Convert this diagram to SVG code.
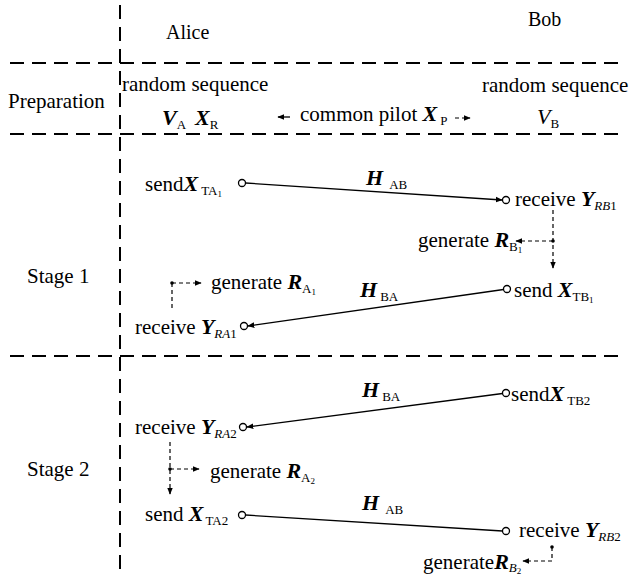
<svg xmlns="http://www.w3.org/2000/svg" width="630" height="578" viewBox="0 0 630 578" font-family="'Liberation Serif', 'Times New Roman', 'DejaVu Serif', serif">
<defs>
<style>
text{font-family:'Liberation Serif','Times New Roman','DejaVu Serif',serif}
.t{font-size:21px;fill:#000}
.v{font-weight:bold;font-style:italic;font-size:22px}
.vi{font-style:italic;font-size:22px}
.s{font-size:13px;font-weight:normal;font-style:normal}
.si{font-size:13px;font-style:italic;font-weight:normal}
.ss{font-size:9px;font-style:normal;font-weight:normal}
.grid{stroke:#000;stroke-width:2;stroke-dasharray:14,8;fill:none}
.ln{stroke:#000;stroke-width:1.3;fill:none}
.dl{stroke:#000;stroke-width:1.2;stroke-dasharray:4,3;fill:none}
.c{fill:#fff;stroke:#000;stroke-width:1.3}
</style>
<marker id="ah" viewBox="0 0 10 10" refX="9" refY="5" markerWidth="7" markerHeight="7" markerUnits="userSpaceOnUse" orient="auto">
<path d="M0,1 L10,5 L0,9 z" fill="#000"/>
</marker>
</defs>
<rect width="630" height="578" fill="#fff"/>
<g id="grid">
<line class="grid" x1="120" y1="5" x2="120" y2="572"/>
<line class="grid" x1="10" y1="63" x2="625" y2="63"/>
<line class="grid" x1="10" y1="134" x2="625" y2="134"/>
<line class="grid" x1="10" y1="356" x2="625" y2="356"/>
</g>
<g id="headers" class="t">
<text x="166" y="39" font-size="20">Alice</text>
<text x="528" y="26" font-size="20">Bob</text>
<text x="8" y="108">Preparation</text>
<text x="27" y="283">Stage 1</text>
<text x="27" y="476">Stage 2</text>
</g>
<g id="prep-alice" class="t">
<text x="122" y="91">random sequence</text>
<text x="162" y="125"><tspan class="v">V</tspan><tspan class="s" dy="4">A</tspan><tspan class="v" dy="-4" dx="9">X</tspan><tspan class="s" dy="4">R</tspan></text>
</g>
<g id="prep-pilot" class="t">
<text x="300" y="121">common pilot <tspan class="v">X</tspan><tspan class="s" dy="4" dx="3">P</tspan></text>
</g>
<g id="prep-bob" class="t">
<text x="482" y="92">random sequence</text>
<text x="537" y="124"><tspan class="vi">V</tspan><tspan class="s" dy="4">B</tspan></text>
</g>
<g id="s1-sendA" class="t"><text x="145" y="191">send<tspan class="v">X</tspan><tspan class="s" dy="4" dx="3">TA</tspan><tspan class="ss" dy="2">1</tspan></text><circle class="c" cx="242" cy="183" r="3.5"/></g>
<g id="s1-recvB" class="t"><circle class="c" cx="506" cy="200" r="3.5"/><text x="515" y="206">receive <tspan class="v">Y</tspan><tspan class="si" dy="4">RB</tspan><tspan class="s">1</tspan></text></g>
<g id="s1-genB" class="t"><text x="418" y="247">generate <tspan class="v">R</tspan><tspan class="s" dy="4">B</tspan><tspan class="ss" dy="2">1</tspan></text><circle cx="553" cy="241" r="1.8" fill="#000"/></g>
<g id="s1-sendB" class="t"><circle class="c" cx="507" cy="289" r="3.5"/><text x="514" y="297">send <tspan class="v">X</tspan><tspan class="s" dy="4">TB</tspan><tspan class="ss" dy="2">1</tspan></text></g>
<g id="s1-genA" class="t"><circle cx="172" cy="283" r="1.8" fill="#000"/><text x="211" y="289">generate <tspan class="v">R</tspan><tspan class="s" dy="4">A</tspan><tspan class="ss" dy="2">1</tspan></text></g>
<g id="s1-recvA" class="t"><text x="135" y="334">receive <tspan class="v">Y</tspan><tspan class="si" dy="4">RA</tspan><tspan class="s">1</tspan></text><circle class="c" cx="244" cy="326" r="3.5"/></g>
<g id="s2-sendB" class="t"><circle class="c" cx="506" cy="393" r="3.5"/><text x="511" y="401">send<tspan class="v">X</tspan><tspan class="s" dy="4" dx="3">TB2</tspan></text></g>
<g id="s2-recvA" class="t"><text x="135" y="434">receive <tspan class="v">Y</tspan><tspan class="si" dy="4">RA</tspan><tspan class="s">2</tspan></text><circle class="c" cx="243" cy="427" r="3.5"/></g>
<g id="s2-genA" class="t"><circle cx="170" cy="469" r="1.8" fill="#000"/><text x="210" y="478">generate <tspan class="v">R</tspan><tspan class="s" dy="4">A</tspan><tspan class="ss" dy="2">2</tspan></text></g>
<g id="s2-sendA" class="t"><text x="145" y="521">send <tspan class="v">X</tspan><tspan class="s" dy="4" dx="2">TA2</tspan></text><circle class="c" cx="242" cy="515" r="3.5"/></g>
<g id="s2-recvB" class="t"><circle class="c" cx="506" cy="531" r="3.5"/><text x="519" y="537">receive <tspan class="v">Y</tspan><tspan class="si" dy="4">RB</tspan><tspan class="s">2</tspan></text></g>
<g id="s2-genB" class="t"><text x="423" y="569">generate<tspan class="v">R</tspan><tspan class="si" dy="3">B</tspan><tspan class="ss" dy="2">2</tspan></text><circle cx="552" cy="547" r="1.8" fill="#000"/></g>
<g id="channel-labels" class="t">
<text x="366" y="185"><tspan class="v">H</tspan><tspan class="s" dy="4" dx="6">AB</tspan></text>
<text x="360" y="297"><tspan class="v">H</tspan><tspan class="s" dy="4" dx="3">BA</tspan></text>
<text x="362" y="397"><tspan class="v">H</tspan><tspan class="s" dy="4" dx="3">BA</tspan></text>
<text x="362" y="510"><tspan class="v">H</tspan><tspan class="s" dy="4" dx="6">AB</tspan></text>
</g>
<g id="connectors">
<line class="ln" x1="245.5" y1="183" x2="502" y2="200" marker-end="url(#ah)"/>
<line class="ln" x1="503.5" y1="289.5" x2="248" y2="326" marker-end="url(#ah)"/>
<line class="ln" x1="502.5" y1="393.5" x2="247" y2="427" marker-end="url(#ah)"/>
<line class="ln" x1="245.5" y1="515" x2="502.5" y2="531"/>
<line class="ln" x1="290" y1="117" x2="278" y2="117" marker-end="url(#ah)"/>
<line class="dl" x1="455" y1="118" x2="470" y2="118" marker-end="url(#ah)"/>
<line class="dl" x1="553" y1="210" x2="553" y2="268" marker-end="url(#ah)"/>
<line class="dl" x1="553" y1="241" x2="516" y2="241" marker-end="url(#ah)"/>
<line class="dl" x1="172" y1="283" x2="201" y2="283" marker-end="url(#ah)"/>
<line class="dl" x1="172" y1="283" x2="172" y2="308"/>
<line class="dl" x1="170" y1="442" x2="170" y2="494" marker-end="url(#ah)"/>
<line class="dl" x1="170" y1="469" x2="199" y2="469" marker-end="url(#ah)"/>
<line class="dl" x1="552" y1="547" x2="552" y2="561"/>
<line class="dl" x1="552" y1="561" x2="523" y2="561" marker-end="url(#ah)"/>
</g>
</svg>
